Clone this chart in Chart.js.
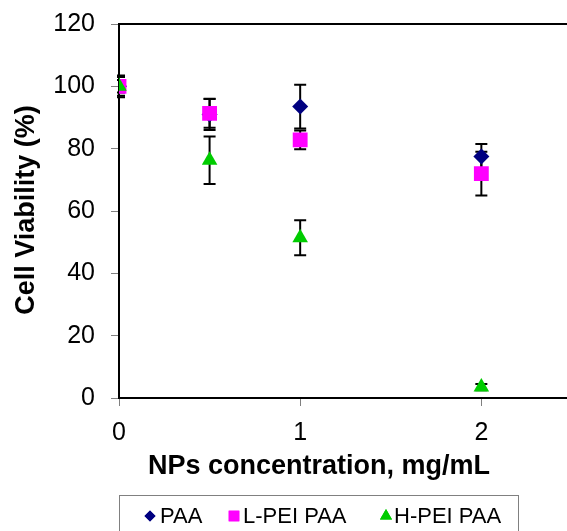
<!DOCTYPE html>
<html>
<head>
<meta charset="utf-8">
<script src="https://cdn.jsdelivr.net/npm/chart.js@4.4.0/dist/chart.umd.min.js"></script>
<style>
  html, body { margin: 0; padding: 0; background: #fff; overflow: hidden; }
  #wrap { position: relative; width: 567px; height: 531px; overflow: hidden; }
</style>
</head>
<body>
<div id="wrap"><canvas id="c" width="577" height="531"></canvas></div>
<script>
// ---- data ----
const concentrations = [0, 0.5, 1, 2];
const seriesNames = ["PAA", "L-PEI PAA", "H-PEI PAA"];
const paaValues   = [100, 91.0, 93.5, 77.5];
const paaErrors   = [3.5, 5.0, 7.0, 4.0];
const lpeiValues  = [100, 91.3, 82.8, 72.0];
const lpeiErrors  = [2.0, 4.6, 3.0, 7.0];
const hpeiValues  = [100, 76.3, 51.4, 3.5];
const hpeiErrors  = [3.0, 7.6, 5.6, 1.0];
const xTickValues = [0, 1, 2];
const yTickStep = 20;
const xTitle = "NPs concentration, mg/mL";
const yTitle = "Cell Viability (%)";

const FONT = "'Liberation Sans', Arial, sans-serif";

function pts(vals) { return concentrations.map((x, i) => ({ x: x, y: vals[i] })); }

const datasets = [
  { label: seriesNames[0], data: pts(paaValues), errors: paaErrors,
    pointStyle: 'rectRot', pointRadius: 8, backgroundColor: '#000080', borderColor: '#000080', order: 2,
    legendStyle: 'rectRot', legendRadius: 5.5, lx: 150, tx: 160 },
  { label: seriesNames[1], data: pts(lpeiValues), errors: lpeiErrors,
    pointStyle: 'rect', pointRadius: 10.5, backgroundColor: '#FF00FF', borderColor: '#FF00FF', order: 1,
    legendStyle: 'rect', legendRadius: 7.5, lx: 234, tx: 243 },
  { label: seriesNames[2], data: pts(hpeiValues), errors: hpeiErrors,
    pointStyle: 'triangle', pointRadius: 9, backgroundColor: '#00CC00', borderColor: '#00CC00', order: 0,
    legendStyle: 'triangle', legendRadius: 7, lx: 386, tx: 394 }
];
datasets.forEach(d => { d.pointBorderWidth = 0; d.showLine = false; d.pointHoverRadius = d.pointRadius; });

const extras = {
  id: 'extras',
  beforeDatasetsDraw(chart) {
    const ctx = chart.ctx, xs = chart.scales.x, ys = chart.scales.y, ca = chart.chartArea;
    ctx.save();
    ctx.beginPath();
    ctx.rect(ca.left - 2, ca.top - 20, ca.right - ca.left + 30, ca.bottom - ca.top + 40);
    ctx.clip();
    ctx.strokeStyle = '#000';
    ctx.lineWidth = 2;
    chart.data.datasets.forEach(ds => {
      ds.data.forEach((p, i) => {
        const e = ds.errors[i];
        const px = xs.getPixelForValue(p.x);
        const yt = ys.getPixelForValue(p.y + e);
        const yb = ys.getPixelForValue(p.y - e);
        ctx.beginPath();
        ctx.moveTo(px, yt); ctx.lineTo(px, yb);
        ctx.moveTo(px - 6, yt); ctx.lineTo(px + 6, yt);
        ctx.moveTo(px - 6, yb); ctx.lineTo(px + 6, yb);
        ctx.stroke();
      });
    });
    ctx.restore();
  },
  afterDraw(chart) {
    const ctx = chart.ctx, ca = chart.chartArea;
    ctx.save();
    // top frame line
    ctx.strokeStyle = '#000';
    ctx.lineWidth = 2;
    ctx.beginPath();
    ctx.moveTo(ca.left - 1, ca.top); ctx.lineTo(ca.right + 10, ca.top);
    ctx.stroke();
    // axis titles
    ctx.fillStyle = '#000';
    ctx.font = "bold 27px " + FONT;
    ctx.textAlign = 'center';
    ctx.textBaseline = 'middle';
    ctx.fillText(xTitle, 319, 467);
    ctx.save();
    ctx.translate(27, 210);
    ctx.rotate(-Math.PI / 2);
    ctx.fillText(yTitle, 0, 0);
    ctx.restore();
    // legend
    ctx.strokeStyle = '#808080';
    ctx.lineWidth = 1;
    ctx.strokeRect(119.5, 495.5, 399, 50);
    const ly = 516;
    ctx.font = "22px " + FONT;
    ctx.textAlign = 'left';
    chart.data.datasets.forEach(ds => {
      ctx.fillStyle = ds.backgroundColor;
      Chart.helpers.drawPoint(ctx, { pointStyle: ds.legendStyle, radius: ds.legendRadius, borderWidth: 0 }, ds.lx, ly);
      ctx.fill();
      ctx.fillStyle = '#000';
      ctx.fillText(ds.label, ds.tx, ly + 1);
    });
    ctx.restore();
  }
};

function zeroPad(s) { s.paddingTop = 0; s.paddingBottom = 0; s.paddingLeft = 0; s.paddingRight = 0; }

new Chart(document.getElementById('c'), {
  type: 'scatter',
  data: { datasets: datasets },
  options: {
    responsive: false,
    animation: false,
    events: [],
    layout: { padding: { top: 24, right: 0, left: 0, bottom: 0 } },
    plugins: { legend: { display: false }, tooltip: { enabled: false } },
    scales: {
      x: {
        type: 'linear', min: 0, max: 2.47,
        afterBuildTicks(s) { s.ticks = xTickValues.map(v => ({ value: v })); },
        afterFit(s) { s.height = 531 - 398; zeroPad(s); },
        grid: { display: true, drawOnChartArea: false, drawTicks: true, tickLength: 8, tickColor: '#808080', lineWidth: 1 },
        border: { display: true, color: '#000', width: 2 },
        ticks: { color: '#000', font: { family: FONT, size: 25 }, padding: 12, maxRotation: 0,
                 callback: v => String(v) }
      },
      y: {
        type: 'linear', min: 0, max: 120,
        ticks: { stepSize: yTickStep, color: '#000', font: { family: FONT, size: 25 }, padding: 16 },
        afterFit(s) { s.width = 119; zeroPad(s); },
        grid: { display: true, drawOnChartArea: false, drawTicks: true, tickLength: 8, tickColor: '#808080', lineWidth: 1 },
        border: { display: true, color: '#000', width: 2 }
      }
    }
  },
  plugins: [extras]
});
</script>
</body>
</html>
